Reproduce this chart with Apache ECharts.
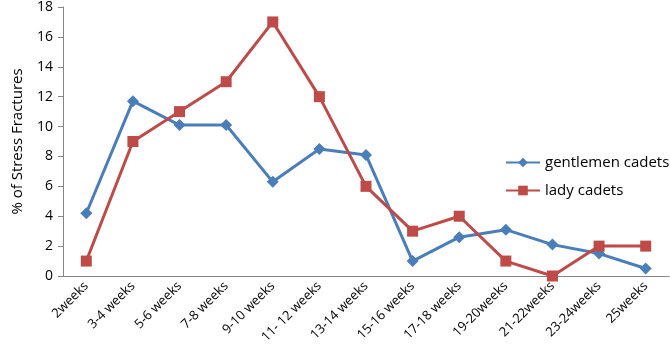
<!DOCTYPE html>
<html>
<head>
<meta charset="utf-8">
<script src="https://cdn.jsdelivr.net/npm/echarts@6/dist/echarts.min.js"></script>
<style>
  html, body { margin: 0; padding: 0; background: #fff; }
  #chart1 { width: 670px; height: 358px; }
</style>
</head>
<body>
<div id="chart1"></div>
<script>
  var weeks = ['2weeks', '3-4 weeks', '5-6 weeks', '7-8 weeks', '9-10 weeks', '11- 12 weeks', '13-14 weeks',
    '15-16 weeks', '17-18 weeks', '19-20weeks', '21-22weeks', '23-24weeks', '25weeks'];
  var gentList = [4.2, 11.7, 10.1, 10.1, 6.3, 8.5, 8.1, 1.0, 2.6, 3.1, 2.1, 1.5, 0.5];
  var ladyList = [1, 9, 11, 13, 17, 12, 6, 3, 4, 1, 0, 2, 2];
  var yTicks = [0, 18, 2];

  // 주차별 피로골절 비율 차트
  const getStressFractures = chartId => {
    let myChart = echarts.init(document.getElementById(chartId));
    let option;

    option = {
      animation: false,
      textStyle: { fontFamily: 'Open Sans' },
      legend: {
        orient: 'vertical',
        left: 500,
        top: 150,
        itemWidth: 34,
        itemHeight: 12,
        itemGap: 13,
        textStyle: { fontSize: 15, color: '#000' },
        data: ['gentlemen cadets', 'lady cadets']
      },
      grid: {
        left: 63,
        right: 1,
        top: 7,
        bottom: 82
      },
      color: ['#4a7ebb', '#be4b48'],
      xAxis: {
        type: 'category',
        data: weeks,
        axisLine: { lineStyle: { color: '#868686' } },
        axisTick: { length: 5, lineStyle: { color: '#868686' } },
        axisLabel: { rotate: 45, fontSize: 13, color: '#000', margin: 8 }
      },
      yAxis: {
        type: 'value',
        min: yTicks[0],
        max: yTicks[1],
        interval: yTicks[2],
        name: '% of Stress Fractures',
        nameLocation: 'middle',
        nameGap: 38,
        nameTextStyle: { fontSize: 15, color: '#000' },
        splitLine: { show: false },
        axisLine: { show: true, lineStyle: { color: '#868686' } },
        axisTick: { show: true, length: 5, lineStyle: { color: '#868686' } },
        axisLabel: { fontSize: 14, color: '#000', margin: 10 }
      },
      series: [
        {
          name: 'gentlemen cadets',
          type: 'line',
          symbol: 'diamond',
          symbolSize: 12,
          lineStyle: { width: 3 },
          data: gentList
        },
        {
          name: 'lady cadets',
          type: 'line',
          symbol: 'rect',
          symbolSize: 11,
          lineStyle: { width: 3 },
          data: ladyList
        }
      ]
    };

    option && myChart.setOption(option);
  }

  getStressFractures('chart1');
</script>
</body>
</html>
